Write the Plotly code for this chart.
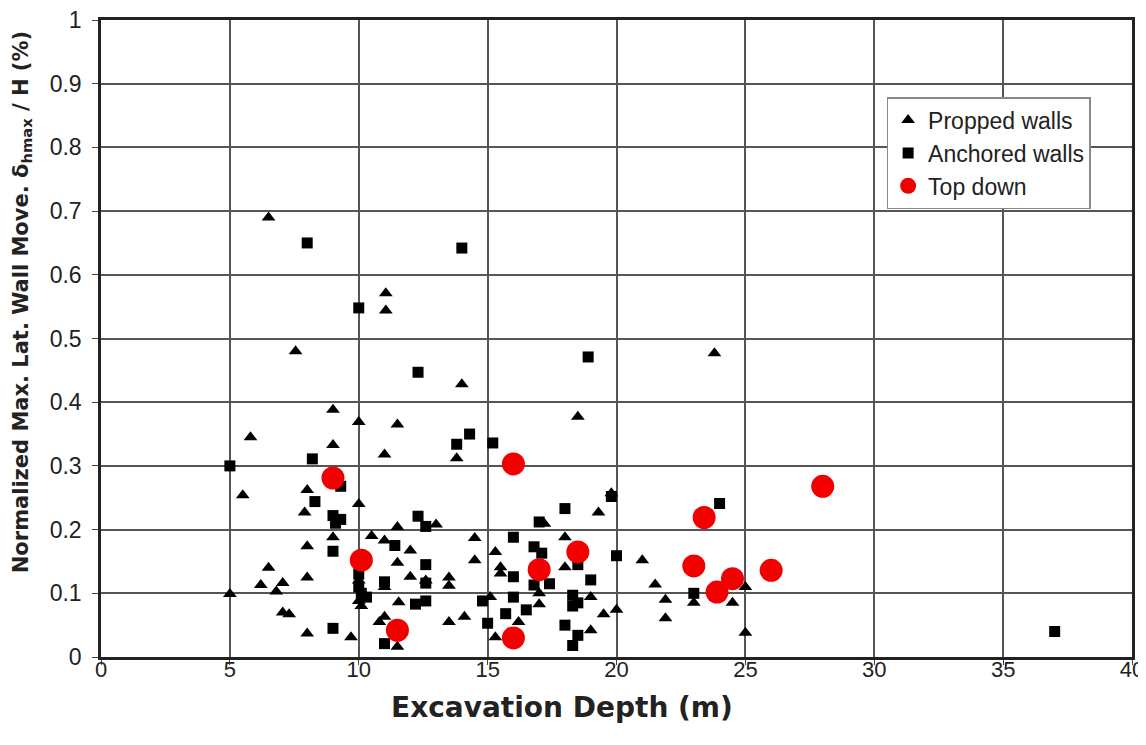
import plotly.graph_objects as go

# Propped walls (triangles)
propped_x = [6.5, 7.55, 11.05, 11.05, 14.0, 23.8, 18.5, 5.8, 9.0, 10.0, 11.5, 9.0, 11.0, 13.8,
             5.5, 8.0, 7.9, 10.0, 11.5, 13.0, 19.3, 19.8, 17.2, 10.5, 11.0, 9.0, 8.0, 12.0, 14.5,
             18.0, 15.3, 21.0, 14.5, 11.5, 6.5, 15.5, 15.5, 18.0, 8.0, 12.0, 13.5, 13.5, 10.0,
             11.0, 12.6, 6.2, 7.05, 6.8, 5.0, 10.0, 21.5, 25.0, 15.1, 17.0, 17.0, 19.0, 21.9,
             23.0, 24.5, 11.55, 20.0, 19.5, 7.05, 7.3, 14.1, 11.0, 10.8, 13.5, 16.2, 21.9, 19.0,
             25.0, 8.0, 9.7, 15.3, 11.5, 10.1]
propped_y = [0.69, 0.48, 0.571, 0.544, 0.428, 0.477, 0.377, 0.345, 0.388, 0.369, 0.365, 0.333,
             0.318, 0.312, 0.254, 0.262, 0.227, 0.24, 0.204, 0.208, 0.227, 0.257, 0.209, 0.19,
             0.183, 0.188, 0.174, 0.167, 0.187, 0.188, 0.165, 0.152, 0.152, 0.148, 0.14, 0.141,
             0.131, 0.141, 0.125, 0.126, 0.125, 0.112, 0.12, 0.11, 0.12, 0.113, 0.116, 0.103,
             0.099, 0.088, 0.114, 0.11, 0.094, 0.1, 0.083, 0.094, 0.09, 0.085, 0.085, 0.086,
             0.074, 0.067, 0.07, 0.067, 0.063, 0.063, 0.055, 0.055, 0.055, 0.061, 0.042, 0.038,
             0.037, 0.031, 0.031, 0.016, 0.08]

# Anchored walls (squares)
anchored_x = [8.0, 14.0, 10.0, 18.9, 12.3, 13.8, 14.3, 15.2, 5.0, 8.2, 9.3, 8.3, 9.0, 9.3, 9.1,
              12.3, 12.6, 18.0, 19.8, 24.0, 17.0, 16.0, 16.8, 17.1, 20.0, 11.4, 9.0, 12.6, 18.5,
              16.0, 19.0, 10.0, 10.0, 10.1, 10.3, 11.0, 12.6, 16.8, 17.4, 23.0, 18.3, 18.3, 18.5,
              16.0, 14.8, 12.2, 12.6, 15.7, 16.5, 15.0, 18.0, 18.5, 18.3, 9.0, 11.0, 37.0]
anchored_y = [0.65, 0.642, 0.548, 0.471, 0.447, 0.334, 0.35, 0.336, 0.30, 0.311, 0.268, 0.244,
              0.222, 0.216, 0.21, 0.221, 0.205, 0.233, 0.252, 0.241, 0.212, 0.188, 0.173, 0.163,
              0.159, 0.175, 0.166, 0.145, 0.145, 0.126, 0.121, 0.13, 0.11, 0.1, 0.094, 0.118,
              0.116, 0.113, 0.115, 0.1, 0.097, 0.08, 0.085, 0.094, 0.088, 0.083, 0.088, 0.068,
              0.074, 0.053, 0.05, 0.034, 0.018, 0.045, 0.021, 0.04]

# Top down (red circles)
topdown_x = [9.0, 16.0, 23.4, 28.0, 10.1, 18.5, 17.0, 23.0, 26.0, 24.5, 23.9, 11.5, 16.0]
topdown_y = [0.281, 0.303, 0.219, 0.268, 0.152, 0.165, 0.137, 0.143, 0.136, 0.123, 0.102, 0.042, 0.03]

x_ticks = [0, 5, 10, 15, 20, 25, 30, 35, 40]
y_ticks = [0, 0.1, 0.2, 0.3, 0.4, 0.5, 0.6, 0.7, 0.8, 0.9, 1]
y_tick_labels = ["0", "0.1", "0.2", "0.3", "0.4", "0.5", "0.6", "0.7", "0.8", "0.9", "1"]
x_title = "Excavation Depth (m)"
y_title = "Normalized Max. Lat. Wall Move. δ<sub>hmax</sub> / H (%)"

fig = go.Figure()
fig.add_trace(go.Scatter(x=propped_x, y=propped_y, mode="markers", name="Propped walls",
                         marker=dict(symbol="triangle-up", size=12, color="black")))
fig.add_trace(go.Scatter(x=anchored_x, y=anchored_y, mode="markers", name="Anchored walls",
                         marker=dict(symbol="square", size=11, color="black")))
fig.add_trace(go.Scatter(x=topdown_x, y=topdown_y, mode="markers", name="Top down",
                         marker=dict(symbol="circle", size=23, color="#f20000")))

font_family = "Liberation Sans, Arial, sans-serif"
title_family = "DejaVu Sans, sans-serif"

fig.add_annotation(text="<b>" + x_title + "</b>", xref="paper", yref="paper",
                   x=0.447, y=-0.079, xanchor="center", yanchor="middle", showarrow=False,
                   font=dict(size=28, family=title_family, color="#222222"))
fig.add_annotation(text="<b>" + y_title + "</b>", xref="paper", yref="paper",
                   x=-0.0766, y=0.557, xanchor="center", yanchor="middle", showarrow=False,
                   textangle=-90,
                   font=dict(size=21, family=title_family, color="#222222"))

fig.update_layout(
    width=1138, height=720,
    margin=dict(l=93, r=14, t=12, b=71),
    paper_bgcolor="white", plot_bgcolor="white",
    font=dict(family=font_family, color="#222222", size=22),
    showlegend=True,
    legend=dict(x=0.762, y=0.879, xanchor="left", yanchor="top",
                bgcolor="white", bordercolor="#888888", borderwidth=1.5,
                font=dict(size=23, family=font_family, color="#222222"),
                itemwidth=30, itemsizing="trace", tracegroupgap=0),
    xaxis=dict(range=[0, 40], tickvals=x_ticks, ticktext=[str(v) for v in x_ticks],
               showgrid=True, gridcolor="#555555", gridwidth=1.5,
               showline=True, linecolor="#222222", linewidth=2.5, mirror=True,
               ticks="outside", ticklen=5, tickcolor="#444444",
               zeroline=False, automargin=False, ticklabeloverflow="allow",
               tickfont=dict(size=22), ticklabelstandoff=-14),
    yaxis=dict(range=[0, 1], tickvals=y_ticks, ticktext=y_tick_labels,
               showgrid=True, gridcolor="#555555", gridwidth=1.5,
               showline=True, linecolor="#222222", linewidth=2.5, mirror=True,
               ticks="outside", ticklen=6, tickcolor="#444444",
               zeroline=False, automargin=False, ticklabeloverflow="allow",
               tickfont=dict(size=23), ticklabelstandoff=6),
)

fig.write_html("out.html")
